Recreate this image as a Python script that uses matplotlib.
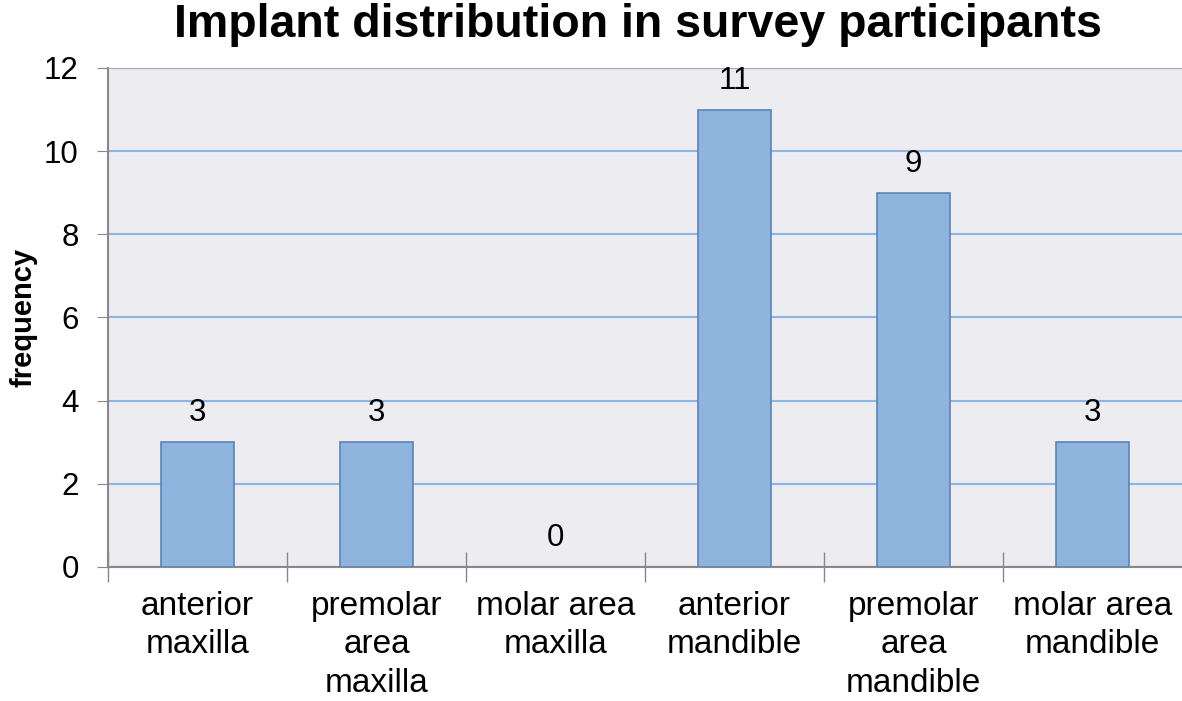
import matplotlib

matplotlib.use("Agg")
import matplotlib.pyplot as plt

plt.rcParams["font.family"] = ["Liberation Sans", "DejaVu Sans"]

categories = ["anterior\nmaxilla", "premolar\narea\nmaxilla", "molar area\nmaxilla",
              "anterior\nmandible", "premolar\narea\nmandible", "molar area\nmandible"]
counts = [3, 3, 0, 11, 9, 3]
y_ticks = [0, 2, 4, 6, 8, 10, 12]

fig = plt.figure(figsize=(11.82, 7.01), dpi=100)
ax = fig.add_axes([0.0914, 0.1912, 0.9086, 0.7118])
ax.set_facecolor("#ECECF1")

x = list(range(len(categories)))
# zero-height bar shows nothing in the original, so no edge for it
lw = [1.2 if v else 0 for v in counts]
ax.bar(x, counts, width=0.41, color="#8EB3DD", edgecolor="#5A85B5", linewidth=lw, zorder=3)
for i, v in enumerate(counts):
    ax.annotate(str(v), (i, v), xytext=(0, 10), textcoords="offset points",
                ha="center", va="bottom", fontsize=22.5)

ax.set_xlim(-0.5, len(categories) - 0.5)
ax.set_ylim(0, 12)
ax.set_yticks(y_ticks)
ax.tick_params(axis="y", labelsize=22.5, length=8, color="#888888", pad=13)
ax.yaxis.grid(True, color="#8DB4E2", linewidth=1.5, zorder=1)
ax.set_axisbelow(True)

ax.set_xticks([i + 0.5 for i in x[:-1]] + [-0.5], minor=False)
ax.set_xticklabels([])
ax.tick_params(axis="x", direction="inout", length=22, color="#888888", width=1)
ax.set_xticks(x, minor=True)
ax.set_xticklabels(categories, minor=True, fontsize=24, linespacing=1.33)
ax.tick_params(axis="x", which="minor", length=0, pad=17)

for side in ["left", "bottom"]:
    ax.spines[side].set_color("#888888")
    ax.spines[side].set_linewidth(1.5)
ax.spines["top"].set_color("#AAAAAA")
ax.spines["right"].set_visible(False)

ax.set_ylabel("frequency", fontsize=21, fontweight="bold", labelpad=5)
fig.text(0.54, 0.964, "Implant distribution in survey participants", ha="center",
         va="center", fontsize=33.5, fontweight="bold")

fig.savefig("out.png", dpi=100)
